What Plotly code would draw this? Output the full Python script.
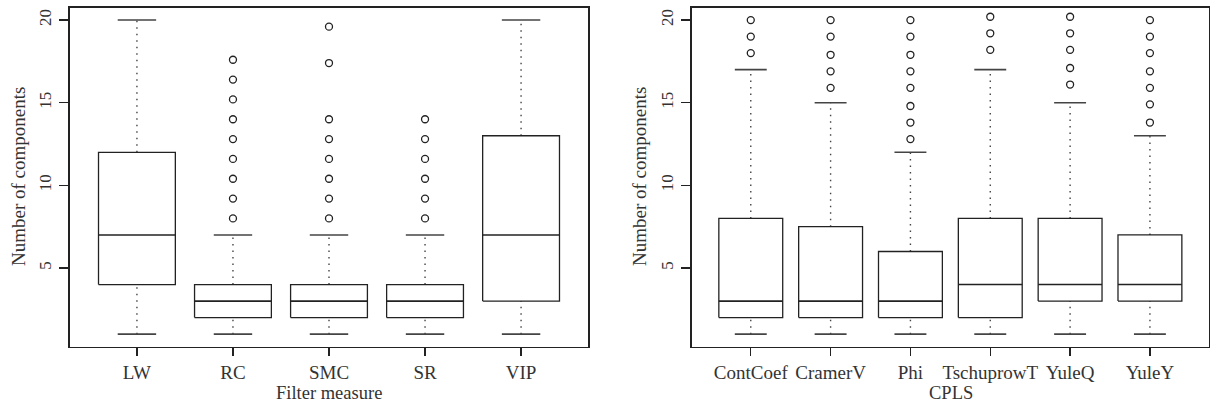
import plotly.graph_objects as go

# ---- data: left panel (Filter measure) ----
left_cats = ["LW", "RC", "SMC", "SR", "VIP"]
left_lo = [1, 1, 1, 1, 1]
left_q1 = [4, 2, 2, 2, 3]
left_med = [7, 3, 3, 3, 7]
left_q3 = [12, 4, 4, 4, 13]
left_hi = [20, 7, 7, 7, 20]
left_out = [
    [],
    [8, 9.2, 10.4, 11.6, 12.8, 14, 15.2, 16.4, 17.6],
    [8, 9.2, 10.4, 11.6, 12.8, 14, 17.4, 19.6],
    [8, 9.2, 10.4, 11.6, 12.8, 14],
    [],
]

# ---- data: right panel (CPLS) ----
right_cats = ["ContCoef", "CramerV", "Phi", "TschuprowT", "YuleQ", "YuleY"]
right_lo = [1, 1, 1, 1, 1, 1]
right_q1 = [2, 2, 2, 2, 3, 3]
right_med = [3, 3, 3, 4, 4, 4]
right_q3 = [8, 7.5, 6, 8, 8, 7]
right_hi = [17, 15, 12, 17, 15, 13]
right_out = [
    [18, 19, 20],
    [15.9, 16.9, 17.9, 19, 20],
    [12.8, 13.8, 14.8, 15.9, 16.9, 17.9, 19, 20],
    [18.2, 19.2, 20.2],
    [16.1, 17.1, 18.2, 19.2, 20.2],
    [13.8, 14.9, 15.9, 16.9, 18, 19, 20],
]

y_ticks = [5, 10, 15, 20]
x_titles = ["Filter measure", "CPLS"]
y_title = "Number of components"

INK = "#222222"
CAP = "#444444"
TXT = "#333333"
FONT = "Liberation Serif"
HW = 0.4   # half box width
CW = 0.2   # half staple width

fig = go.Figure()


def add_panel(cats, lo, q1, med, q3, hi, outs, xa, ya):
    bx, by, mx, my, wx, wy, cx, cy, ox, oy = [], [], [], [], [], [], [], [], [], []
    for i in range(len(cats)):
        p = i + 1
        bx += [p - HW, p + HW, p + HW, p - HW, p - HW, None]
        by += [q1[i], q1[i], q3[i], q3[i], q1[i], None]
        mx += [p - HW, p + HW, None]
        my += [med[i], med[i], None]
        wx += [p, p, None, p, p, None]
        wy += [q3[i], hi[i], None, lo[i], q1[i], None]
        cx += [p - CW, p + CW, None, p - CW, p + CW, None]
        cy += [hi[i], hi[i], None, lo[i], lo[i], None]
        for v in outs[i]:
            ox.append(p)
            oy.append(v)
    common = dict(xaxis=xa, yaxis=ya, showlegend=False, hoverinfo="skip")
    fig.add_trace(go.Scatter(x=wx, y=wy, mode="lines",
                             line=dict(color="#444444", width=1.4, dash="1.5px,5px"), **common))
    fig.add_trace(go.Scatter(x=cx, y=cy, mode="lines",
                             line=dict(color=CAP, width=1.6), **common))
    fig.add_trace(go.Scatter(x=bx, y=by, mode="lines",
                             line=dict(color=INK, width=1.3), **common))
    fig.add_trace(go.Scatter(x=mx, y=my, mode="lines",
                             line=dict(color=INK, width=1.6), **common))
    fig.add_trace(go.Scatter(x=ox, y=oy, mode="markers",
                             marker=dict(symbol="circle-open", size=7, color=INK,
                                         line=dict(width=1.3, color=INK)), **common))


add_panel(left_cats, left_lo, left_q1, left_med, left_q3, left_hi, left_out, "x", "y")
add_panel(right_cats, right_lo, right_q1, right_med, right_q3, right_hi, right_out, "x2", "y2")

W, H = 1210, 411


def px(p):
    return p / W


def py(p):
    return 1 - p / H


def ext(n):
    d = n * 0.04
    return [0.5 - d, n + 0.5 + d]


yrange = [1 - 19 * 0.04, 20 + 19 * 0.04]

xcommon = dict(showline=True, linecolor=INK, linewidth=1.3, mirror=True,
               ticks="outside", ticklen=8, tickwidth=1.3, tickcolor=INK,
               showgrid=False, zeroline=False,
               tickfont=dict(family=FONT, size=19, color=TXT),
               automargin=False, fixedrange=True)
ycommon = dict(showline=True, linecolor=INK, linewidth=1.3, mirror=True,
               ticks="outside", ticklen=9, tickwidth=1.3, tickcolor=INK,
               showgrid=False, zeroline=False,
               tickfont=dict(family=FONT, size=17, color=TXT),
               tickvals=y_ticks, ticktext=[str(v) for v in y_ticks],
               tickangle=-90, ticklabelstandoff=2,
               range=yrange, automargin=False, fixedrange=True)

ydom = [py(346.7), py(7.5)]
fig.update_layout(
    width=W, height=H,
    margin=dict(l=0, r=0, t=0, b=0),
    paper_bgcolor="white", plot_bgcolor="white",
    xaxis=dict(domain=[px(69.7), px(588.3)], range=ext(len(left_cats)),
               tickvals=list(range(1, len(left_cats) + 1)), ticktext=left_cats, **xcommon),
    yaxis=dict(domain=ydom, anchor="x", **ycommon),
    xaxis2=dict(domain=[px(691.7), px(1209.0)], range=ext(len(right_cats)),
                tickvals=list(range(1, len(right_cats) + 1)), ticktext=right_cats,
                anchor="y2", **xcommon),
    yaxis2=dict(domain=ydom, anchor="x2", **ycommon),
)

xfont = dict(family=FONT, size=18.5, color=TXT)
yfont = dict(family=FONT, size=19, color=TXT)
ann = dict(xref="paper", yref="paper", showarrow=False,
           xanchor="center", yanchor="middle")
fig.add_annotation(text=x_titles[0], x=px((69.7 + 588.3) / 2), y=py(393), font=xfont, **ann)
fig.add_annotation(text=x_titles[1], x=px(950.5), y=py(393), font=xfont, **ann)
fig.add_annotation(text=y_title, x=px(18), y=py(177), textangle=-90, font=yfont, **ann)
fig.add_annotation(text=y_title, x=px(639), y=py(177), textangle=-90, font=yfont, **ann)

fig.write_html("out.html",
               config={"displayModeBar": False, "staticPlot": True},
               post_script="document.body.style.margin='0';document.body.style.overflow='hidden';")
